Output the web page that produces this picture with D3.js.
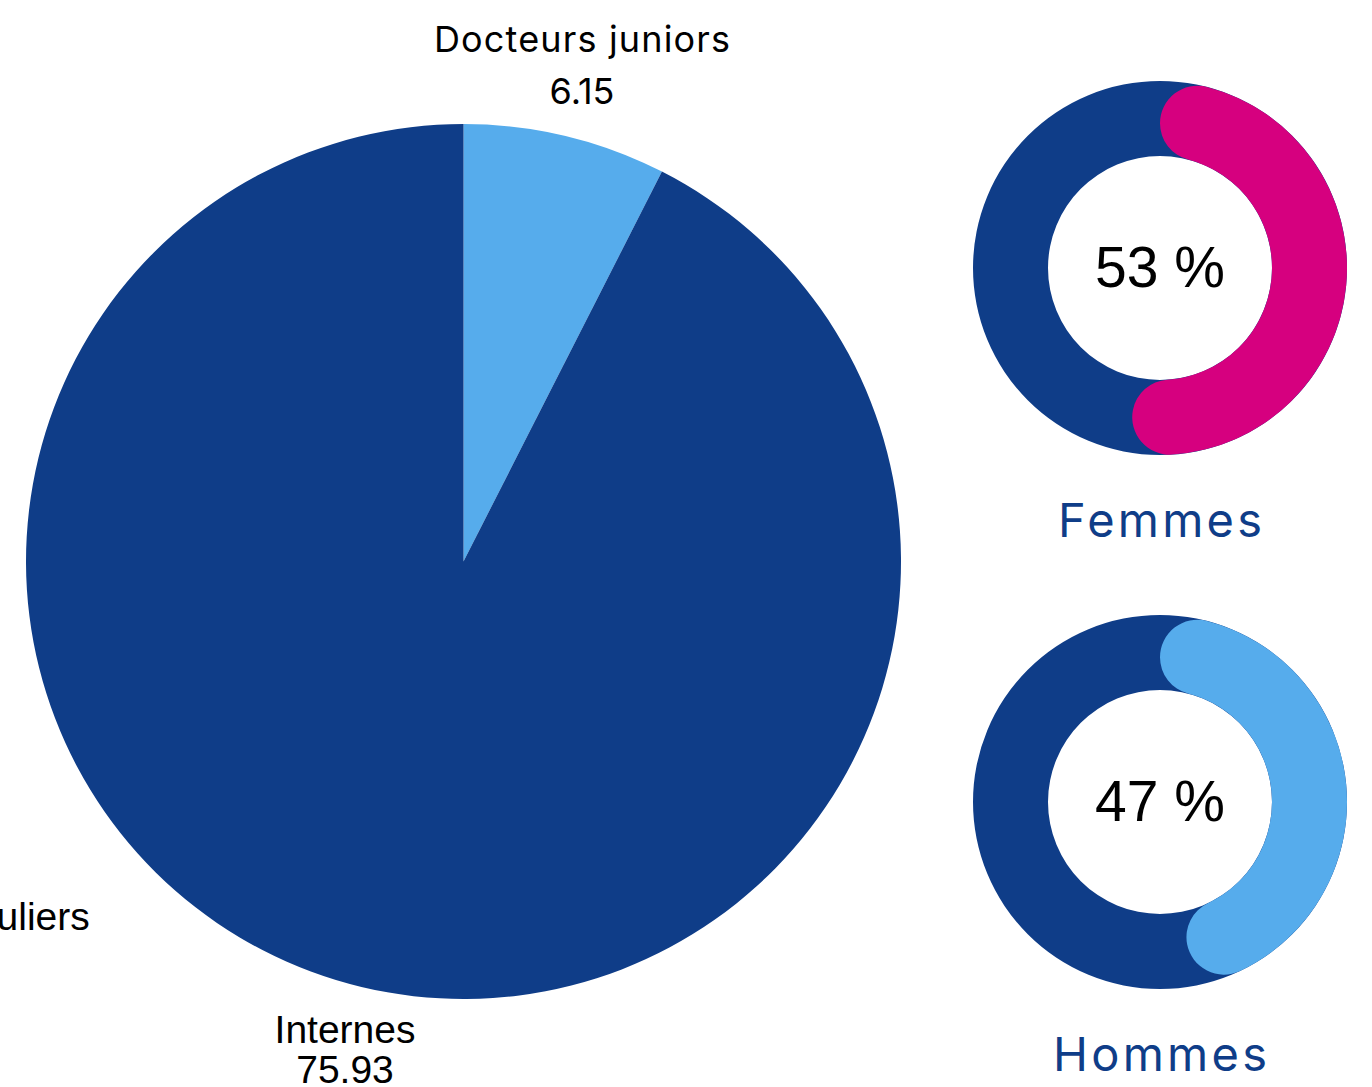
<!DOCTYPE html>
<html>
<head>
<meta charset="utf-8">
<script src="https://cdn.jsdelivr.net/npm/d3@7"></script>
<style>
  html, body { margin: 0; padding: 0; background: #fff; overflow: hidden; }
</style>
</head>
<body>
<div id="chart"></div>
<script>
// pie data
const pieLabels = ["Docteurs juniors", "Internes", "Réguliers"];
const pieValues = [6.15, 75.93, 0];
const pieColors = ["#56acec", "#0f3d88", "#0f3d88"];

// gender donuts
const genderLabels = ["Femmes", "Hommes"];
const genderShares = [53, 47];
const genderColors = ["#d6007f", "#56acec"];

const width = 1372, height = 1087;
const darkBlue = "#0f3d88";

const svg = d3.select("#chart").append("svg")
    .attr("width", width)
    .attr("height", height);

// ---- big pie ----
const cx = 463.5, cy = 561.5, radius = 437.5, labelRadius = 508;

const pieData = pieLabels.map(function(l, i) {
    return {label: l, value: pieValues[i], color: pieColors[i]};
});

const pie = d3.pie().sort(null).value(function(d) { return d.value; });
const arcs = pie(pieData);

const arc = d3.arc().innerRadius(0).outerRadius(radius);

const pieG = svg.append("g").attr("transform", "translate(" + cx + "," + cy + ")");

pieG.selectAll("path")
    .data(arcs.filter(function(d) { return d.value > 0; }))
    .enter().append("path")
    .attr("d", arc)
    .attr("fill", function(d) { return d.data.color; });

function labelPoint(angle) {   // angle clockwise from top
    return [labelRadius * Math.sin(angle), -labelRadius * Math.cos(angle)];
}

// Docteurs juniors label (geometric font)
let a0 = (arcs[0].startAngle + arcs[0].endAngle) / 2;
let p0 = labelPoint(a0);
pieG.append("text")
    .attr("x", p0[0]).attr("y", p0[1] - 16)
    .attr("text-anchor", "middle")
    .attr("textLength", 296).attr("lengthAdjust", "spacing")
    .style("font-family", "Inter, sans-serif").style("font-size", "36px")
    .text(arcs[0].data.label);
pieG.append("text")
    .attr("x", p0[0]).attr("y", p0[1] + 36)
    .attr("text-anchor", "middle")
    .style("font-family", "Inter, sans-serif").style("font-size", "36px")
    .text(arcs[0].data.value.toFixed(2));

// Internes label
let a1 = (arcs[1].startAngle + arcs[1].endAngle) / 2;
let p1 = labelPoint(a1);
pieG.append("text")
    .attr("x", p1[0]).attr("y", p1[1] - 12)
    .attr("text-anchor", "middle")
    .style("font-family", "'Liberation Sans', Arial, sans-serif").style("font-size", "39px")
    .text(arcs[1].data.label);
pieG.append("text")
    .attr("x", p1[0]).attr("y", p1[1] + 28)
    .attr("text-anchor", "middle")
    .style("font-family", "'Liberation Sans', Arial, sans-serif").style("font-size", "39px")
    .text(arcs[1].data.value.toFixed(2));

// third label sits off to the lower left, clipped by the page edge
let p2 = labelPoint(Math.PI * 1.2478);
pieG.append("text")
    .attr("x", p2[0] - 17).attr("y", p2[1] + 7)
    .attr("text-anchor", "end")
    .style("font-family", "'Liberation Sans', Arial, sans-serif").style("font-size", "39px")
    .text(arcs[2].data.label);

// ---- gender donuts ----
const dx = 1160, dys = [268, 802];
const rOut = 187, rIn = 112;

const ring = d3.arc().innerRadius(rIn).outerRadius(rOut).startAngle(0).endAngle(2 * Math.PI);
const share = d3.arc().innerRadius(rIn).outerRadius(rOut)
    .cornerRadius((rOut - rIn) / 2)
    .startAngle(0)
    .endAngle(function(d) { return d / 100 * 2 * Math.PI; });

genderLabels.forEach(function(lbl, i) {
    let g = svg.append("g").attr("transform", "translate(" + dx + "," + dys[i] + ")");
    g.append("path").attr("d", ring()).attr("fill", darkBlue);
    g.append("path").attr("d", share(genderShares[i])).attr("fill", genderColors[i]);
    g.append("text")
        .attr("y", 19)
        .attr("text-anchor", "middle")
        .style("font-family", "'Liberation Sans', Arial, sans-serif").style("font-size", "57px")
        .text(genderShares[i] + " %");
    g.append("text")
        .attr("y", 269)
        .attr("text-anchor", "middle")
        .attr("textLength", i === 0 ? 204 : 214).attr("lengthAdjust", "spacing")
        .attr("fill", darkBlue)
        .style("font-family", "Inter, sans-serif").style("font-size", "47px")
        .text(lbl);
});
</script>
</body>
</html>
